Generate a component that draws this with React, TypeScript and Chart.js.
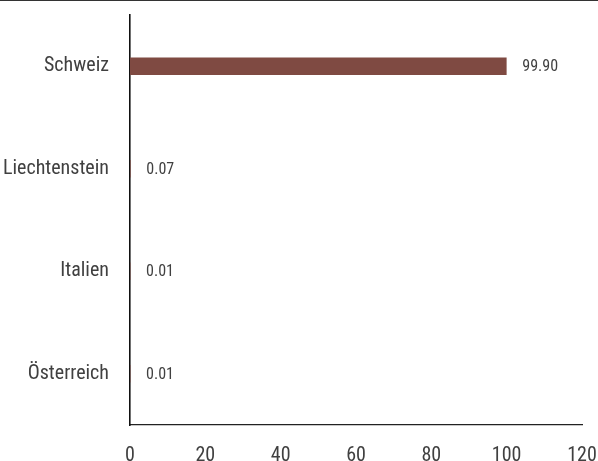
import React, { useEffect, useRef } from "react";
import { Chart, registerables } from "chart.js";

Chart.register(...registerables);

const categories = ["Schweiz", "Liechtenstein", "Italien", "Österreich"];
const shares = [99.9, 0.07, 0.01, 0.01];
const xTicks = [0, 20, 40, 60, 80, 100, 120];

const FONT = '"Liberation Sans Narrow", "Roboto Condensed", "DejaVu Sans Condensed", sans-serif';
const TEXT = "#404040";

const valueLabels = {
  id: "valueLabels",
  afterDatasetsDraw(chart: any) {
    const { ctx } = chart;
    const meta = chart.getDatasetMeta(0);
    const xs = chart.scales.x;
    ctx.save();
    ctx.font = `16px ${FONT}`;
    ctx.fillStyle = TEXT;
    ctx.textAlign = "left";
    ctx.textBaseline = "middle";
    meta.data.forEach((bar: any, i: number) => {
      const v = shares[i];
      const x = xs.getPixelForValue(v) + 16;
      ctx.fillText(v.toFixed(2), x, bar.y + 1);
    });
    ctx.restore();
  },
};

export default function App() {
  const ref = useRef<HTMLCanvasElement | null>(null);

  useEffect(() => {
    document.body.style.margin = "0";
    if (!ref.current) return;
    const chart = new Chart(ref.current, {
      type: "bar",
      data: {
        labels: categories,
        datasets: [
          {
            data: shares,
            backgroundColor: "#7f4a42",
            barThickness: 17,
          },
        ],
      },
      options: {
        indexAxis: "y",
        animation: false,
        responsive: false,
        maintainAspectRatio: false,
        layout: { padding: { top: 14, right: 16, left: 0, bottom: 0 } },
        plugins: {
          legend: { display: false },
          tooltip: { enabled: false },
        },
        scales: {
          x: {
            min: 0,
            max: 120,
            afterBuildTicks: (scale: any) => {
              scale.ticks = xTicks.map((v) => ({ value: v }));
            },
            afterFit: (scale: any) => {
              scale.height = 36;
              scale.paddingLeft = 0;
              scale.paddingRight = 0;
            },
            grid: { display: false, drawTicks: false },
            border: { display: true, color: "#222", width: 1.2 },
            ticks: {
              color: TEXT,
              font: { family: FONT, size: 20 },
              padding: 19,
              maxRotation: 0,
            },
          },
          y: {
            z: 1,
            afterFit: (scale: any) => {
              scale.width = 130;
              scale.paddingTop = 0;
              scale.paddingBottom = 0;
            },
            grid: { display: false, drawTicks: true, tickLength: 21, tickColor: "rgba(0,0,0,0)" },
            border: { display: true, color: "#111", width: 1.6 },
            ticks: {
              color: TEXT,
              font: { family: FONT, size: 20 },
              padding: 0,
            },
          },
        },
      },
      plugins: [valueLabels],
    });
    return () => chart.destroy();
  }, []);

  return (
    <div style={{ position: "relative", width: 598, height: 461, borderTop: "1px solid #333", boxSizing: "border-box" }}>
      <canvas ref={ref} width={598} height={460} style={{ display: "block", width: 598, height: 460 }} />
    </div>
  );
}
